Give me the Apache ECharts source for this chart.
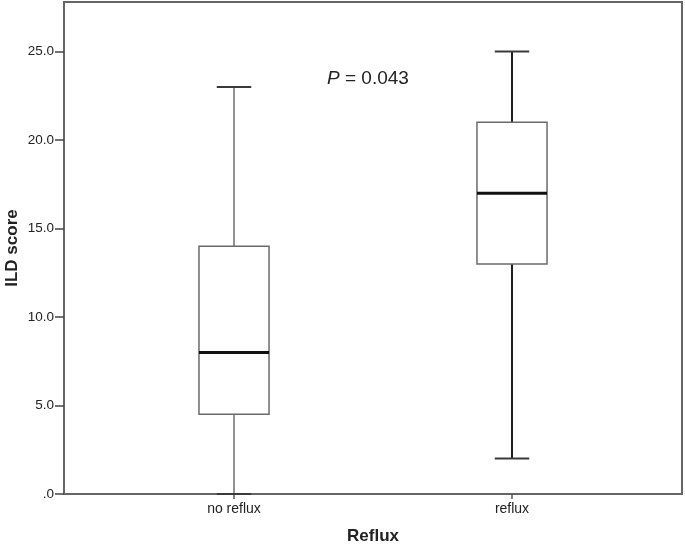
<!DOCTYPE html>
<html>
<head>
<meta charset="utf-8">
<script src="https://cdn.jsdelivr.net/npm/echarts@6/dist/echarts.min.js"></script>
<style>
  html, body { margin: 0; padding: 0; background: #fff; }
  #main { width: 685px; height: 544px; }
</style>
</head>
<body>
<div id="main"></div>
<script>
// categories and box statistics: [min, Q1, median, Q3, max]
var categories = ['no reflux', 'reflux'];
var mins = [0, 2];
var q1s = [4.5, 13];
var medians = [8, 17];
var q3s = [14, 21];
var maxs = [23, 25];
var yTicks = [0, 5, 10, 15, 20, 25];

// whisker look differs per group in the original
var whiskerColor = ['#6e6e6e', '#1e1e1e'];
var whiskerWidth = [1.5, 2];

var boxData = categories.map(function (c, i) {
  return [i, mins[i], q1s[i], medians[i], q3s[i], maxs[i]];
});

var chart = echarts.init(document.getElementById('main'));

function renderBox(params, api) {
  var idx = params.dataIndex;
  var x = api.coord([api.value(0), 0])[0];
  var band = api.size([1, 0])[0];
  var half = band * 0.126;
  var capHalf = band * 0.062;
  var y = function (d) { return api.coord([api.value(0), api.value(d)])[1]; };
  var yMin = y(1), yQ1 = y(2), yMed = y(3), yQ3 = y(4), yMax = y(5);
  var wStyle = { stroke: whiskerColor[idx], lineWidth: whiskerWidth[idx] };
  var capStyle = { stroke: '#3a3a3a', lineWidth: 2 };
  return {
    type: 'group',
    children: [
      { type: 'line', shape: { x1: x, y1: yMin, x2: x, y2: yQ1 }, style: wStyle },
      { type: 'line', shape: { x1: x, y1: yQ3, x2: x, y2: yMax }, style: wStyle },
      { type: 'line', shape: { x1: x - capHalf, y1: yMin, x2: x + capHalf, y2: yMin }, style: capStyle },
      { type: 'line', shape: { x1: x - capHalf, y1: yMax, x2: x + capHalf, y2: yMax }, style: capStyle },
      { type: 'rect', shape: { x: x - half, y: yQ3, width: half * 2, height: yQ1 - yQ3 },
        style: { fill: '#fff', stroke: '#6a6a6a', lineWidth: 1.5 } },
      { type: 'line', shape: { x1: x - half, y1: yMed, x2: x + half, y2: yMed },
        style: { stroke: '#111', lineWidth: 3 } }
    ]
  };
}

var option = {
  backgroundColor: '#ffffff',
  animation: false,
  textStyle: { fontFamily: 'Liberation Sans, Arial, sans-serif', color: '#222' },
  title: {
    text: '{i|P} = 0.043',
    left: 322,
    top: 64,
    textStyle: {
      fontSize: 19,
      fontWeight: 'normal',
      color: '#222',
      rich: { i: { fontStyle: 'italic', fontSize: 19, color: '#222' } }
    }
  },
  grid: [
    { left: 64, right: 3, top: 2, bottom: 50, show: true, borderColor: '#666', borderWidth: 2, outerBoundsMode: 'none' },
    { left: 95, right: 34, top: 2, bottom: 50, outerBoundsMode: 'none' }
  ],
  xAxis: [
    {
      gridIndex: 0, type: 'value', min: 0, max: 1,
      axisLine: { show: false }, axisTick: { show: false }, axisLabel: { show: false },
      splitLine: { show: false },
      name: 'Reflux', nameLocation: 'middle', nameGap: 34,
      nameTextStyle: { fontSize: 17, fontWeight: 'bold', color: '#222' }
    },
    {
      gridIndex: 1, type: 'category', data: categories,
      axisLine: { show: false },
      axisTick: { show: true, alignWithLabel: true, length: 5, lineStyle: { color: '#555', width: 1.5 } },
      axisLabel: { fontSize: 14, color: '#222', margin: 8 }
    }
  ],
  yAxis: [
    {
      gridIndex: 0, type: 'value', min: 0, max: 27.8,
      axisLine: { show: false },
      axisTick: { show: true, length: 9, customValues: yTicks, lineStyle: { color: '#444', width: 1.5 } },
      axisLabel: {
        customValues: yTicks, fontSize: 13.5, color: '#222', margin: 10,
        formatter: function (v) { return v === 0 ? '.0' : v.toFixed(1); }
      },
      splitLine: { show: false },
      name: 'ILD score', nameLocation: 'middle', nameGap: 43, nameMoveOverlap: false,
      nameTextStyle: { fontSize: 17, fontWeight: 'bold', color: '#222' }
    },
    {
      gridIndex: 1, type: 'value', min: 0, max: 27.8, show: false, splitLine: { show: false }
    }
  ],
  series: [{
    type: 'custom',
    xAxisIndex: 1,
    yAxisIndex: 1,
    renderItem: renderBox,
    encode: { x: 0, y: [1, 2, 3, 4, 5] },
    data: boxData
  }]
};

chart.setOption(option);
</script>
</body>
</html>
